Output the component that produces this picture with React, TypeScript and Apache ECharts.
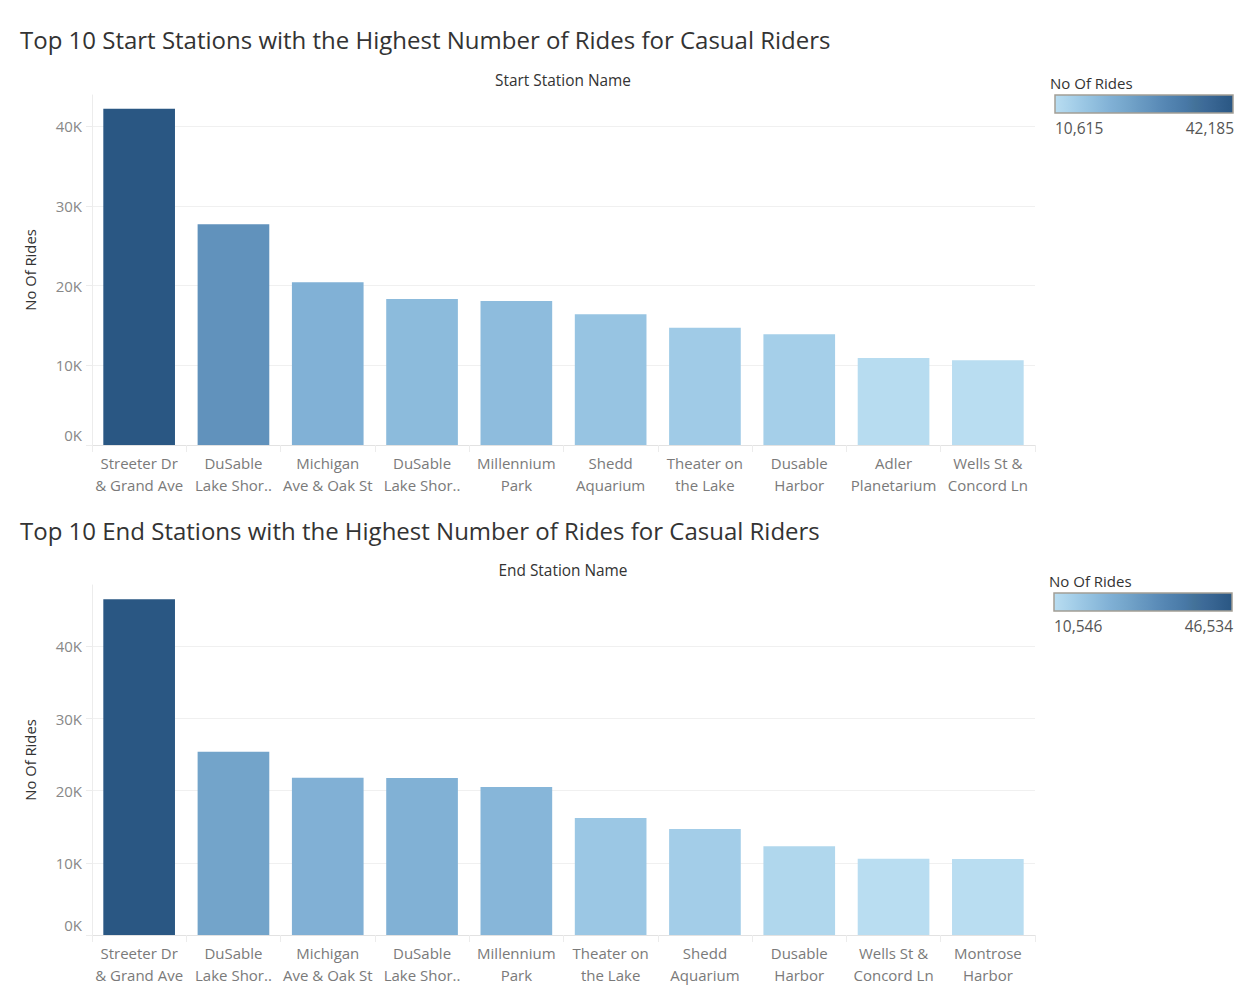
import React, { useEffect, useRef } from "react";
import * as echarts from "echarts";

const startTitle = "Top 10 Start Stations with the Highest Number of Rides for Casual Riders";
const endTitle = "Top 10 End Stations with the Highest Number of Rides for Casual Riders";
const startHeader = "Start Station Name";
const endHeader = "End Station Name";
const measureName = "No Of Rides";

const startStations = [
  "Streeter Dr\n& Grand Ave",
  "DuSable\nLake Shor..",
  "Michigan\nAve & Oak St",
  "DuSable\nLake Shor..",
  "Millennium\nPark",
  "Shedd\nAquarium",
  "Theater on\nthe Lake",
  "Dusable\nHarbor",
  "Adler\nPlanetarium",
  "Wells St &\nConcord Ln",
];
const startRides = [42185, 27700, 20400, 18300, 18050, 16400, 14700, 13900, 10900, 10615];

const endStations = [
  "Streeter Dr\n& Grand Ave",
  "DuSable\nLake Shor..",
  "Michigan\nAve & Oak St",
  "DuSable\nLake Shor..",
  "Millennium\nPark",
  "Theater on\nthe Lake",
  "Shedd\nAquarium",
  "Dusable\nHarbor",
  "Wells St &\nConcord Ln",
  "Montrose\nHarbor",
];
const endRides = [46534, 25400, 21800, 21750, 20500, 16200, 14700, 12300, 10560, 10546];

const palette = [
  "#b9ddf1", "#afd6ed", "#a5cfe9", "#9bc7e4", "#92c0df", "#89b8da", "#80b0d5",
  "#79aacf", "#72a3c9", "#6a9bc3", "#6394be", "#5b8cb8", "#5485b2", "#4e7fac",
  "#4878a6", "#437299", "#3d6a98", "#376491", "#305d8a", "#2a5783",
];

const fmt = (n: number) => n.toLocaleString("en-US");

export default function App() {
  const ref = useRef<HTMLDivElement>(null);
  useEffect(() => {
    if (!ref.current) return;
    const chart = echarts.init(ref.current, undefined, { renderer: "svg" });
    const font = "Open Sans";
    const gradStops = palette.map((c, i) => ({ offset: i / (palette.length - 1), color: c }));

    const makeX = (gridIndex: number, data: string[]) => ({
      type: "category",
      gridIndex,
      data,
      axisLine: { show: true, lineStyle: { color: "#e2e2e2", width: 1 } },
      axisTick: { show: true, length: 7, lineStyle: { color: "#ececec" } },
      axisLabel: {
        interval: 0,
        color: "#7a7a7a",
        fontSize: 15,
        lineHeight: 22,
        margin: 7,
        fontFamily: font,
      },
    });
    const makeY = (gridIndex: number, max: number) => ({
      type: "value",
      gridIndex,
      min: 0,
      max,
      interval: 10000,
      name: measureName,
      nameLocation: "middle",
      nameGap: 55,
      nameTextStyle: { color: "#333", fontSize: 14.8, fontFamily: font },
      axisLine: { show: true, lineStyle: { color: "#ececec" } },
      axisTick: { show: true, length: 6, lineStyle: { color: "#ececec" } },
      splitLine: { show: true, showMaxLine: false, lineStyle: { color: "#f0f0f0", width: 1 } },
      axisLabel: {
        showMaxLabel: false,
        color: "#888",
        fontSize: 15,
        margin: 10,
        fontFamily: font,
        formatter: (v: number) => (v === 0 ? "{z|0K}" : v / 1000 + "K"),
        rich: { z: { color: "#888", fontSize: 15, fontFamily: font, padding: [0, 0, 20, 0] } },
      },
    });

    const legend = (x: number, y: number, min: number, max: number) => [
      {
        type: "text",
        x: x - 5,
        y: y - 12,
        style: { text: measureName, fill: "#333", font: `15px '${font}'`, verticalAlign: "middle", align: "left" },
      },
      {
        type: "rect",
        shape: { x, y, width: 178, height: 18 },
        style: {
          fill: { type: "linear", x: 0, y: 0, x2: 1, y2: 0, colorStops: gradStops },
          stroke: "#a39e95",
          lineWidth: 1.5,
        },
      },
      {
        type: "text",
        x,
        y: y + 33,
        style: { text: fmt(min), fill: "#555", font: `15.5px '${font}'`, verticalAlign: "middle", align: "left" },
      },
      {
        type: "text",
        x: x + 179,
        y: y + 33,
        style: { text: fmt(max), fill: "#555", font: `15.5px '${font}'`, verticalAlign: "middle", align: "right" },
      },
    ];

    const option: any = {
      animation: false,
      textStyle: { fontFamily: font },
      title: [
        { text: startTitle, left: 20, top: 27, padding: 0, textStyle: { fontSize: 24, fontWeight: "normal", color: "#333", fontFamily: font } },
        { text: endTitle, left: 20, top: 518, padding: 0, textStyle: { fontSize: 24, fontWeight: "normal", color: "#333", fontFamily: font } },
      ],
      grid: [
        { left: 92, right: 214, top: 95, bottom: 554 },
        { left: 92, right: 214, top: 585, bottom: 64 },
      ],
      xAxis: [makeX(0, startStations), makeX(1, endStations)],
      yAxis: [makeY(0, 43900), makeY(1, 48500)],
      visualMap: [
        {
          show: false,
          type: "continuous",
          seriesIndex: 0,
          min: Math.min(...startRides),
          max: Math.max(...startRides),
          inRange: { color: palette },
        },
        {
          show: false,
          type: "continuous",
          seriesIndex: 1,
          min: Math.min(...endRides),
          max: Math.max(...endRides),
          inRange: { color: palette },
        },
      ],
      series: [
        { type: "bar", xAxisIndex: 0, yAxisIndex: 0, data: startRides, barCategoryGap: "24%" },
        { type: "bar", xAxisIndex: 1, yAxisIndex: 1, data: endRides, barCategoryGap: "24%" },
      ],
      graphic: [
        {
          type: "text",
          x: 563,
          y: 80,
          style: { text: startHeader, fill: "#333", font: `15.4px '${font}'`, align: "center", verticalAlign: "middle" },
        },
        {
          type: "text",
          x: 563,
          y: 570,
          style: { text: endHeader, fill: "#333", font: `15.4px '${font}'`, align: "center", verticalAlign: "middle" },
        },
        ...legend(1055, 95, Math.min(...startRides), Math.max(...startRides)),
        ...legend(1054, 593, Math.min(...endRides), Math.max(...endRides)),
      ],
    };
    chart.setOption(option);
    return () => chart.dispose();
  }, []);
  return <div ref={ref} style={{ position: "absolute", left: 0, top: 0, width: 1249, height: 999 }} />;
}
